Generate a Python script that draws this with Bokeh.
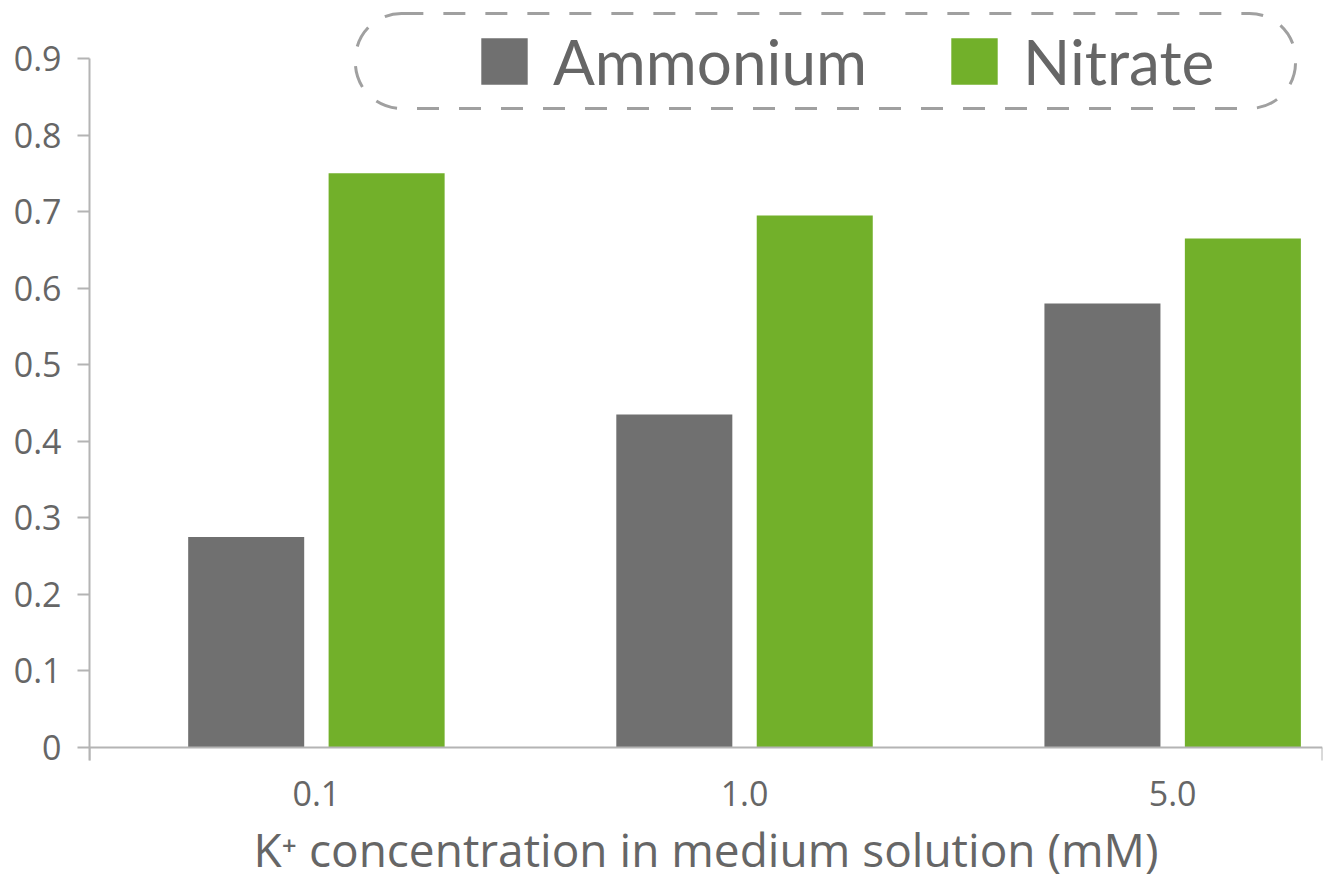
from bokeh.plotting import figure
from bokeh.models import (Range1d, FixedTicker, NumeralTickFormatter, Span,
                          BoxAnnotation, Legend, LegendItem, ColumnDataSource)
from bokeh.transform import dodge
from bokeh.embed import file_html
from bokeh.resources import INLINE

# K+ concentration groups (mM) and the two nitrogen sources
categories = ["0.1", "1.0", "5.0"]
ammonium = [0.275, 0.435, 0.58]
nitrate = [0.75, 0.695, 0.665]
y_ticks = [0, 0.1, 0.2, 0.3, 0.4, 0.5, 0.6, 0.7, 0.8, 0.9]
x_title = "K\u207a concentration in medium solution (mM)"

GREY = "#707070"
GREEN = "#72b02a"
TEXT = "#666666"
AXIS = "#b4b4b4"
FONT = "Open Sans"
LEGEND_FONT = "Lato"

x_start, x_end = -0.53, 2.35
# the frame runs to the bottom of the canvas; the x axis sits just under zero
y_floor, y_lo, y_hi = -0.1737, -0.017, 0.9627

src = ColumnDataSource(dict(x=list(range(len(categories))),
                            ammonium=ammonium, nitrate=nitrate))

p = figure(width=1324, height=880, output_backend="svg", toolbar_location=None,
           x_range=Range1d(x_start, x_end), y_range=Range1d(y_floor, y_hi),
           min_border_left=89, min_border_right=2, min_border_top=10,
           min_border_bottom=0)
p.outline_line_color = None
p.grid.visible = False
p.background_fill_color = "white"
p.border_fill_color = "white"

bar_w = 0.271
r_amm = p.vbar(x=dodge("x", -0.164, range=p.x_range), top="ammonium", width=bar_w,
               source=src, fill_color=GREY, line_color=None)
r_nit = p.vbar(x=dodge("x", 0.164, range=p.x_range), top="nitrate", width=bar_w,
               source=src, fill_color=GREEN, line_color=None)

# baseline at zero
p.add_layout(Span(location=0, dimension="width", line_color=AXIS, line_width=2))

# y axis
ya = p.yaxis[0]
ya.ticker = FixedTicker(ticks=y_ticks)
ya.formatter = NumeralTickFormatter(format="0.[0]")
ya.bounds = (y_lo, 0.9)
ya.axis_line_color = AXIS
ya.axis_line_width = 2
ya.major_tick_line_color = AXIS
ya.major_tick_line_width = 2
ya.major_tick_out = 12
ya.major_tick_in = 0
ya.minor_tick_line_color = None
ya.major_label_standoff = 16
ya.major_label_text_font = FONT
ya.major_label_text_font_size = "34px"
ya.major_label_text_color = TEXT

# x axis
xa = p.xaxis[0]
xa.fixed_location = y_lo
xa.ticker = FixedTicker(ticks=[0, 1, 2], minor_ticks=[x_start, x_end])
xa.major_label_overrides = {i: c for i, c in enumerate(categories)}
xa.axis_line_color = None
xa.major_tick_line_color = None
xa.major_tick_out = 0
xa.major_tick_in = 0
xa.minor_tick_line_color = AXIS
xa.minor_tick_line_width = 2
xa.minor_tick_in = 13
xa.minor_tick_out = 0
xa.major_label_standoff = 20
xa.major_label_text_font = FONT
xa.major_label_text_font_size = "34px"
xa.major_label_text_color = TEXT
xa.axis_label = x_title
xa.axis_label_text_font = FONT
xa.axis_label_text_font_size = "46px"
xa.axis_label_text_font_style = "normal"
xa.axis_label_text_color = TEXT
xa.axis_label_standoff = 9

# legend frame: dashed rounded box
p.add_layout(BoxAnnotation(left=0.091, right=2.287, bottom=0.8347, top=0.9588,
                           fill_color=None, fill_alpha=0, line_color="#a0a0a0",
                           line_alpha=1.0, line_width=3, line_dash="22 20",
                           border_radius=46))

legend = Legend(items=[LegendItem(label="Ammonium", renderers=[r_amm]),
                       LegendItem(label="Nitrate", renderers=[r_nit])],
                orientation="horizontal", location=(386, 782),
                glyph_width=58, glyph_height=58, label_standoff=20, spacing=78,
                padding=0, margin=0, border_line_color=None,
                background_fill_alpha=0,
                label_text_font=LEGEND_FONT, label_text_font_size="62px",
                label_text_color=TEXT)
p.add_layout(legend, "center")

open("out.html", "w").write(file_html(p, INLINE))
